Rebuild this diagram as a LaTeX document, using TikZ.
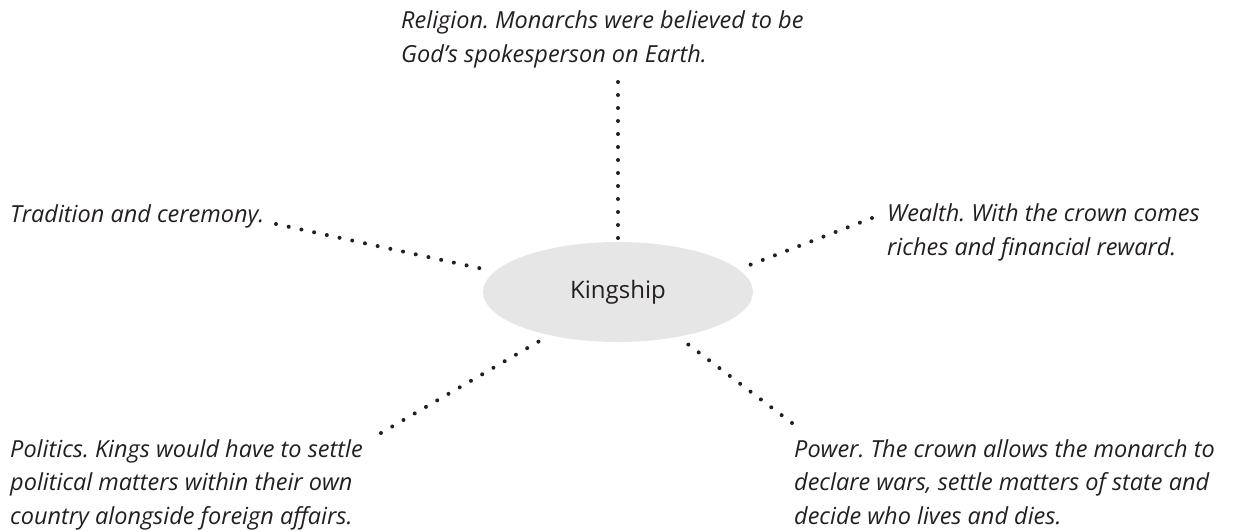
\documentclass[tikz,border=0pt]{standalone}
\usepackage{fontspec}
\setmainfont{Open Sans}
\usetikzlibrary{shapes.geometric}
\definecolor{ink}{HTML}{231F20}
\definecolor{hubfill}{HTML}{E6E6E6}
\tikzset{
  hub/.style={ellipse, fill=hubfill, draw=none, minimum width=270pt, minimum height=100pt,
    inner sep=0pt, text=ink, font=\fontsize{24}{28}\selectfont},
  % anchored on the baseline of the last line
  note/.style={anchor=base west, align=left, inner sep=0pt, text=ink,
    font=\fontsize{23.5}{33.5}\selectfont\itshape\frenchspacing},
  spoke/.style={draw=ink, line width=4pt, line cap=round, dash pattern=on 0pt off 13pt}
}
\begin{document}
\begin{tikzpicture}[x=1pt, y=-1pt]
\useasboundingbox (0,0) rectangle (1242,531);

\node[hub] (k) at (618,292) {Kingship};

\node[note] (religion) at (401,62) {Religion. Monarchs were believed to be\\God’s spokesperson on Earth.};
\node[note] (tradition) at (10,222) {Tradition and ceremony.};
\node[note] (wealth) at (887,255) {Wealth. With the crown comes\\riches and financial reward.};
\node[note] (politics) at (10,524) {Politics. Kings would have to settle\\political matters within their own\\country alongside foreign affairs.};
\node[note] (power) at (794,524) {Power. The crown allows the monarch to\\declare wars, settle matters of state and\\decide who lives and dies.};

% spoke end points
\coordinate (rOut) at (618,82);   \coordinate (rIn) at (618,240);
\coordinate (tOut) at (276,224);  \coordinate (tIn) at (488,270);
\coordinate (wOut) at (872,218);  \coordinate (wIn) at (747,266);
\coordinate (pOut) at (381,433);  \coordinate (pIn) at (543,339);
\coordinate (qOut) at (792,423);  \coordinate (qIn) at (681,339);

\draw[spoke] (rOut) -- (rIn);
\draw[spoke] (tOut) -- (tIn);
\draw[spoke] (wOut) -- (wIn);
\draw[spoke] (pOut) -- (pIn);
\draw[spoke] (qOut) -- (qIn);
\end{tikzpicture}
\end{document}
